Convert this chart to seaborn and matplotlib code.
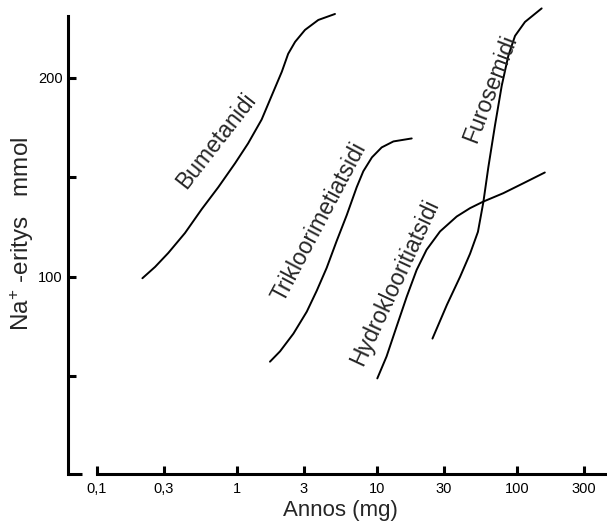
import numpy as np
import pandas as pd
import matplotlib
matplotlib.use("Agg")
import matplotlib.pyplot as plt
import seaborn as sns

# dose (mg) and Na+ excretion (mmol)
bumetanidi_dose = [0.211, 0.260, 0.323, 0.425, 0.560, 0.735, 0.968, 1.20, 1.50,
                   1.77, 2.09, 2.32, 2.60, 3.06, 3.81, 5.01]
bumetanidi_na = [99.3, 105, 112, 122, 134, 145, 157, 167, 179,
                 191, 203, 212, 218, 224, 229, 232]

trikloori_dose = [1.72, 2.03, 2.53, 3.15, 3.71, 4.37, 5.15, 6.08, 7.16,
                  7.98, 9.20, 10.8, 13.1, 17.7]
trikloori_na = [57.4, 62.6, 71.5, 82.5, 93, 104.5, 118, 131, 145,
                153, 160, 165, 168, 169.5]

hydro_dose = [10.05, 11.7, 13.8, 16.3, 19.2, 22.6, 28.2, 37.1, 46.2,
              57.5, 79.8, 111, 158]
hydro_na = [49, 60, 75, 90, 103.5, 113.6, 122.8, 130.3, 134.5,
            137.8, 142, 147, 152.4]

furo_dose = [24.9, 31.6, 39.2, 46.2, 52.6, 57.5, 62.4, 69.6, 77.8,
             86.7, 96.8, 114, 150]
furo_na = [69, 86, 100, 111.6, 122.6, 137.5, 155, 176, 196,
           211, 221, 228, 234.8]

drug_names = ["Bumetanidi", "Trikloorimetiatsidi", "Hydroklooritiatsidi", "Furosemidi"]
# label anchor (dose, mmol) and angle
label_pos = [(0.708, 168.3), (3.85, 127.6), (13.4, 97), (64.1, 194.5)]
label_rot = [52, 62, 65, 69]

x_ticks = [0.1, 0.3, 1, 3, 10, 30, 100, 300]
x_ticklabels = ["0,1", "0,3", "1", "3", "10", "30", "100", "300"]
y_ticks = [50, 100, 150, 200]
y_ticklabels = ["", "100", "", "200"]

series = [
    (bumetanidi_dose, bumetanidi_na),
    (trikloori_dose, trikloori_na),
    (hydro_dose, hydro_na),
    (furo_dose, furo_na),
]
frames = []
for name, (d, n) in zip(drug_names, series):
    frames.append(pd.DataFrame({"dose": d, "na": n, "drug": name}))
df = pd.concat(frames, ignore_index=True)

sns.set_style("ticks")
plt.rcParams["font.family"] = ["Liberation Sans", "DejaVu Sans"]
plt.rcParams["mathtext.default"] = "regular"

W, H = 607, 523
fig = plt.figure(figsize=(W / 100, H / 100), dpi=100)
ax = fig.add_axes([68 / W, (H - 474) / H, 1 - 68 / W, (474 - 8) / H])

for name in drug_names:
    sub = df[df["drug"] == name]
    sns.lineplot(data=sub, x="dose", y="na", ax=ax, color="black",
                 linewidth=1.4, sort=False, estimator=None, clip_on=False)

ax.set_xscale("log")
xmax = 10 ** ((607 - 237) / 140)
ax.set_xlim(10 ** ((68 - 237) / 140), xmax)
ax.set_ylim(1, 235)

ax.set_xticks(x_ticks)
ax.set_xticklabels(x_ticklabels)
ax.xaxis.set_minor_locator(matplotlib.ticker.NullLocator())
ax.set_yticks(y_ticks)
ax.set_yticklabels(y_ticklabels)

ax.tick_params(direction="in", length=6, width=2.2, labelsize=10.5, colors="black")
ax.tick_params(axis="x", pad=6)
ax.tick_params(axis="y", pad=4)

for s in ["top", "right"]:
    ax.spines[s].set_visible(False)
for s in ["left", "bottom"]:
    ax.spines[s].set_linewidth(2.2)
    ax.spines[s].set_color("black")
ax.spines["left"].set_bounds(1, 231)
ax.spines["bottom"].set_bounds(0.1, xmax)
# short foot of the left axis
ax.plot([0, 14 / 539], [0, 0], transform=ax.transAxes, color="black",
        linewidth=2.2, solid_capstyle="butt", clip_on=False)

for name, (lx, ly), rot in zip(drug_names, label_pos, label_rot):
    ax.text(lx, ly, name, rotation=rot, rotation_mode="anchor",
            ha="center", va="center", fontsize=16.5)

ax.set_xlabel("Annos (mg)", fontsize=16)
ax.xaxis.set_label_coords((340 - 68) / 539, (474 - 500) / 466)
ax.set_ylabel("")
fig.text(22 / W, 1 - 234 / H, "Na$^{+}$ -eritys   mmol", rotation=90,
         ha="center", va="center", fontsize=17.5)

fig.savefig("out.png", dpi=100)
